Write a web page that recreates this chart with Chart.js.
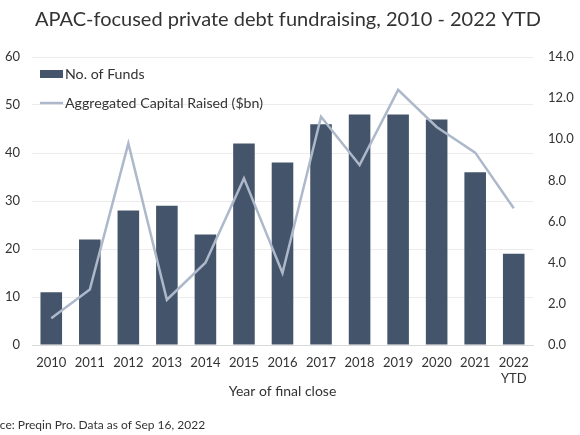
<!DOCTYPE html>
<html>
<head>
<meta charset="utf-8">
<script src="https://cdn.jsdelivr.net/npm/chart.js@4.4.0/dist/chart.umd.min.js"></script>
<style>
html,body{margin:0;padding:0;background:#fff;}
#wrap{width:580px;height:435px;position:relative;}
</style>
</head>
<body>
<div id="wrap"><canvas id="c" width="580" height="435"></canvas></div>
<script>
const categories = [["2010"],["2011"],["2012"],["2013"],["2014"],["2015"],["2016"],["2017"],["2018"],["2019"],["2020"],["2021"],["2022","YTD"]];
const numFunds = [11, 22, 28, 29, 23, 42, 38, 46, 48, 48, 47, 36, 19];
const capitalRaised = [1.3, 2.7, 9.8, 2.2, 4.0, 8.1, 3.5, 11.1, 8.75, 12.4, 10.6, 9.35, 6.65];
const leftTicks = [0, 10, 20, 30, 40, 50, 60];
const rightTicks = [0, 2, 4, 6, 8, 10, 12, 14];

const titleText = "APAC-focused private debt fundraising, 2010 - 2022 YTD";
const sourceText = "Source: Preqin Pro. Data as of Sep 16, 2022";
const FONT = "Lato, 'Open Sans', sans-serif";
const BAR = "#44546a";
const LINE = "#adb9ca";
const TXT = "#333333";

const extras = {
  id: 'extras',
  afterDraw(chart) {
    const ctx = chart.ctx;
    ctx.save();
    // title
    ctx.fillStyle = TXT;
    ctx.font = "20px " + FONT;
    ctx.textAlign = "center";
    ctx.textBaseline = "middle";
    ctx.fillText(titleText, 288, 20);
    // source
    ctx.font = "12px " + FONT;
    ctx.textAlign = "left";
    const w = ctx.measureText("Sour").width;
    ctx.fillText(sourceText, -w, 425);
    // legend
    const lx = 40;
    ctx.fillStyle = BAR;
    ctx.fillRect(lx, 70, 23, 8);
    ctx.strokeStyle = LINE;
    ctx.lineWidth = 2.5;
    ctx.beginPath();
    ctx.moveTo(lx, 103);
    ctx.lineTo(lx + 23, 103);
    ctx.stroke();
    ctx.fillStyle = TXT;
    ctx.font = "14.2px " + FONT;
    ctx.textBaseline = "middle";
    ctx.fillText("No. of Funds", lx + 25, 74);
    ctx.fillText("Aggregated Capital Raised ($bn)", lx + 25, 103);
    ctx.restore();
  }
};

new Chart(document.getElementById('c'), {
  data: {
    labels: categories,
    datasets: [
      {
        type: 'line',
        label: 'Aggregated Capital Raised ($bn)',
        data: capitalRaised,
        yAxisID: 'y1',
        borderColor: LINE,
        backgroundColor: LINE,
        borderWidth: 2.5,
        pointRadius: 0,
        tension: 0,
        order: 0
      },
      {
        type: 'bar',
        label: 'No. of Funds',
        data: numFunds,
        yAxisID: 'y',
        backgroundColor: BAR,
        barPercentage: 0.56,
        categoryPercentage: 1.0,
        order: 1
      }
    ]
  },
  options: {
    responsive: false,
    animation: false,
    devicePixelRatio: 1,
    layout: { padding: { top: 57, left: 0, right: 0, bottom: 35 } },
    plugins: {
      legend: { display: false },
      title: { display: false },
      tooltip: { enabled: false }
    },
    scales: {
      x: {
        grid: { display: false, drawTicks: false },
        border: { display: true, color: '#d9d9d9', width: 1 },
        ticks: { color: TXT, font: { family: FONT, size: 13 }, padding: 10, maxRotation: 0, autoSkip: false },
        title: { display: true, text: 'Year of final close', color: TXT, font: { family: FONT, size: 14 }, padding: { top: 0, bottom: 0 } },
        afterFit(s) { s.height = 55; }
      },
      y: {
        position: 'left',
        min: 0, max: 60,
        afterBuildTicks(s) { s.ticks = leftTicks.map(v => ({ value: v })); },
        grid: { color: '#ececec', drawTicks: false },
        border: { display: false },
        ticks: { color: TXT, font: { family: FONT, size: 13 }, padding: 12 },
        afterFit(s) { s.width = 32; }
      },
      y1: {
        position: 'right',
        min: 0, max: 14,
        afterBuildTicks(s) { s.ticks = rightTicks.map(v => ({ value: v })); },
        grid: { display: false, drawTicks: false },
        border: { display: false },
        ticks: { color: TXT, font: { family: FONT, size: 13 }, padding: 15, callback: v => Number(v).toFixed(1) },
        afterFit(s) { s.width = 47; }
      }
    }
  },
  plugins: [extras]
});
</script>
</body>
</html>
